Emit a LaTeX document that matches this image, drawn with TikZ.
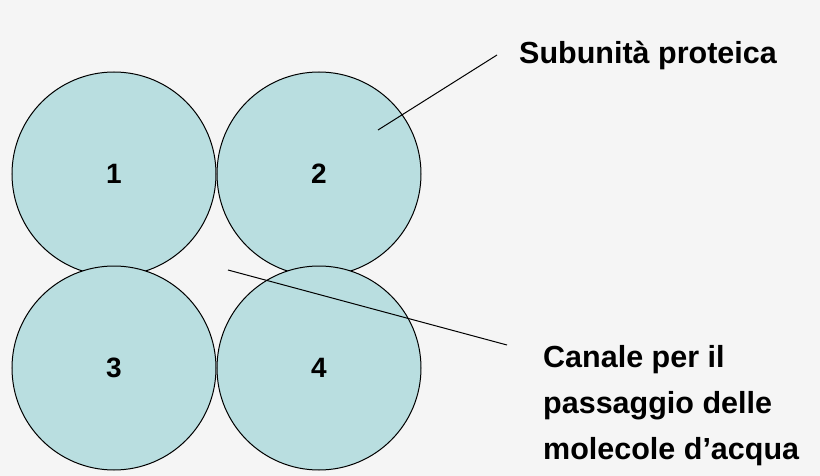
\documentclass[tikz,border=0pt]{standalone}
\usepackage{fontspec}
\setmainfont{Liberation Sans}
\definecolor{cfill}{HTML}{B9DEE0}
\definecolor{bg}{HTML}{F5F5F5}
\begin{document}
\begin{tikzpicture}[x=1pt,y=-1pt,
  sub/.style={circle,draw=black,fill=cfill,line width=1pt,minimum size=204pt,inner sep=0pt,font=\bfseries\fontsize{28}{30}\selectfont},
  lbl/.style={font=\bfseries\fontsize{30.5}{46}\selectfont,align=left,anchor=west,inner sep=0pt},
  ln/.style={draw=black,line width=1pt}]
\fill[bg] (0,0) rectangle (820,476);
\useasboundingbox (0,0) rectangle (820,476);
\node[sub] (c1) at (114,174) {1};
\node[sub] (c2) at (319,174) {2};
\node[sub] (c3) at (114,368) {3};
\node[sub] (c4) at (319,368) {4};
\node[lbl] (t1) at (519,55) {Subunità proteica};
\node[lbl] (t2) at (543,406) {Canale per il\\passaggio delle\\molecole d’acqua};
\coordinate (a1) at (378,130);
\coordinate (b1) at (497,55);
\coordinate (a2) at (228,270);
\coordinate (b2) at (507,345);
\draw[ln] (a1) -- (b1);
\draw[ln] (a2) -- (b2);
\end{tikzpicture}
\end{document}
